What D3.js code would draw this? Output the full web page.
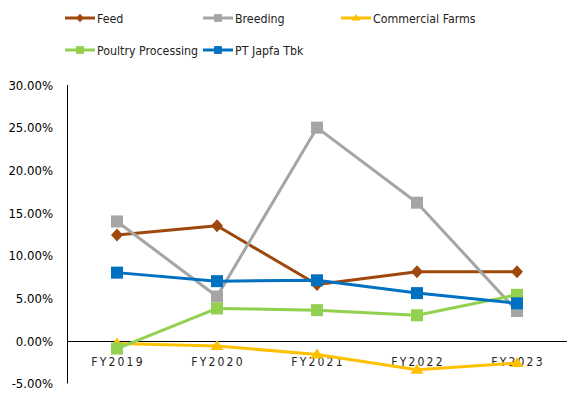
<!DOCTYPE html>
<html>
<head>
<meta charset="utf-8">
<script src="https://cdn.jsdelivr.net/npm/d3@7"></script>
<style>
  body { margin: 0; background: #fff; }
  text { font-family: "DejaVu Sans Condensed", "Liberation Sans", sans-serif; }
</style>
</head>
<body>
<div id="chart"></div>
<script>
// data
const years = ["FY2019", "FY2020", "FY2021", "FY2022", "FY2023"];
const feed = [0.124, 0.135, 0.066, 0.081, 0.081];
const breeding = [0.140, 0.052, 0.250, 0.162, 0.035];
const commercialFarms = [-0.003, -0.006, -0.016, -0.034, -0.026];
const poultryProcessing = [-0.009, 0.038, 0.036, 0.030, 0.054];
const japfa = [0.080, 0.070, 0.071, 0.056, 0.044];
const yTicks = [-0.05, 0, 0.05, 0.10, 0.15, 0.20, 0.25, 0.30];

const series = [
  {name: "Feed", values: feed, color: "#9E480E", shape: "diamond"},
  {name: "Breeding", values: breeding, color: "#A5A5A5", shape: "square"},
  {name: "Commercial Farms", values: commercialFarms, color: "#FFC000", shape: "triangle"},
  {name: "Poultry Processing", values: poultryProcessing, color: "#92D050", shape: "square"},
  {name: "PT Japfa Tbk", values: japfa, color: "#0070C0", shape: "square"}
];

const width = 569, height = 399;
const svg = d3.select("#chart").append("svg")
  .attr("width", width)
  .attr("height", height);

let x = d3.scaleBand().domain(years).range([67, 567]);
let y = d3.scaleLinear().domain([-0.05, 0.30]).range([383.5, 85]);

// y axis
const yAxis = d3.axisLeft(y).tickValues(yTicks).tickSize(0).tickPadding(14)
  .tickFormat(d => (d * 100).toFixed(2) + "%");
const gy = svg.append("g").attr("transform", "translate(67,0)").call(yAxis);
gy.select(".domain").attr("stroke", "#000").attr("d", "M0.5," + y(0.30) + "V" + y(-0.05));
gy.selectAll("text").attr("font-size", 13).attr("fill", "#000")
  .style("font-family", "\"DejaVu Sans Condensed\", sans-serif");

// zero line + category labels
svg.append("line")
  .attr("x1", 67).attr("x2", 567)
  .attr("y1", Math.round(y(0)) + 0.5).attr("y2", Math.round(y(0)) + 0.5)
  .attr("stroke", "#000").attr("stroke-width", 1.2);

svg.selectAll(".xlab").data(years).enter().append("text")
  .attr("x", d => x(d) + x.bandwidth() / 2 + 1)
  .attr("y", y(0) + 25)
  .attr("text-anchor", "middle")
  .attr("font-size", 12)
  .attr("letter-spacing", 2.2)
  .attr("fill", "#222")
  .text(d => d);

const line = d3.line()
  .x((d, i) => x(years[i]) + x.bandwidth() / 2)
  .y(d => y(d));

// marker shapes, k = scale
function marker(shape, k) {
  if (shape === "diamond") return `M0,${-6.5*k}L${6*k},0L0,${6.5*k}L${-6*k},0Z`;
  if (shape === "triangle") return `M0,${-6*k}L${6.5*k},${4*k}L${-6.5*k},${4*k}Z`;
  return `M${-6*k},${-6*k}h${12*k}v${12*k}h${-12*k}Z`;
}

series.forEach(s => {
  svg.append("path")
    .datum(s.values)
    .attr("d", line)
    .attr("fill", "none")
    .attr("stroke", s.color)
    .attr("stroke-width", 3)
    .attr("stroke-linejoin", "round");
  svg.selectAll(null).data(s.values).enter().append("path")
    .attr("transform", (d, i) => "translate(" + (x(years[i]) + x.bandwidth() / 2) + "," + y(d) + ")")
    .attr("d", marker(s.shape, 1))
    .attr("fill", s.color);
});

// legend
const legendPos = [[65, 18], [203, 18], [341, 18], [65, 50], [203, 50]];
series.forEach((s, i) => {
  const [lx, ly] = legendPos[i];
  const g = svg.append("g").attr("transform", "translate(" + lx + "," + ly + ")");
  g.append("line").attr("x1", 0).attr("x2", 30).attr("y1", 0).attr("y2", 0)
    .attr("stroke", s.color).attr("stroke-width", 3);
  g.append("path").attr("transform", "translate(15,0)")
    .attr("d", marker(s.shape, 0.65))
    .attr("fill", s.color);
  g.append("text").attr("x", 32).attr("y", 5)
    .attr("font-size", 12.3).attr("fill", "#222")
    .text(s.name);
});
</script>
</body>
</html>
